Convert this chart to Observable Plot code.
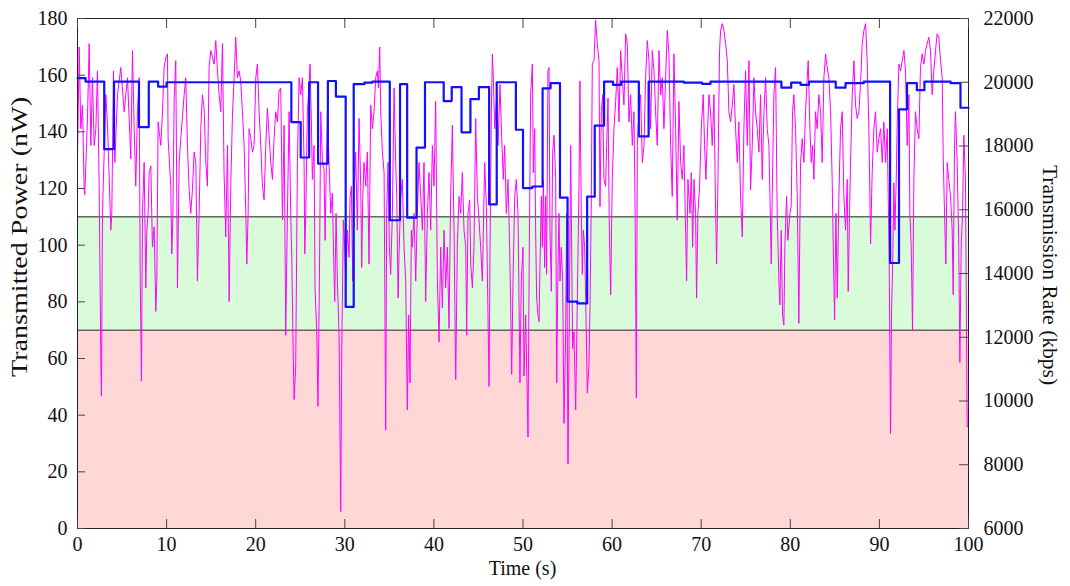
<!DOCTYPE html>
<html>
<head>
<meta charset="utf-8">
<script src="https://cdn.jsdelivr.net/npm/d3@7"></script>
<script src="https://cdn.jsdelivr.net/npm/@observablehq/plot@0.6"></script>
<style>
  html, body { margin: 0; padding: 0; background: #fff; }
  #chart svg { display: block; }
</style>
</head>
<body>
<div id="chart"></div>
<script>
// ---- data ----
const xTicks = [0, 10, 20, 30, 40, 50, 60, 70, 80, 90, 100];
const powerTicks = [0, 20, 40, 60, 80, 100, 120, 140, 160, 180];
const rateTicks = [6000, 8000, 10000, 12000, 14000, 16000, 18000, 20000, 22000];
const powerDomain = [0, 180];
const rateDomain = [6000, 22000];
const redBand = [0, 70];
const greenBand = [70, 110];

// transmitted power (nW) vs time (s)
const power = [
[0.00,131.6],[0.19,169.9],[0.37,141.1],[0.56,149.5],[0.75,119.6],[0.82,117.8],[1.12,144.7],[1.31,171.1],[1.50,135.2],[1.68,159.1],
[1.87,135.2],[2.06,141.1],[2.24,161.5],[2.43,120.8],[2.62,58.6],[2.69,46.7],[2.80,111.2],[3.18,153.1],[3.37,142.3],[3.74,105.3],
[3.85,111.2],[4.04,161.5],[4.19,129.2],[4.49,153.1],[4.86,162.7],[5.24,147.1],[5.61,159.1],[5.98,130.4],[6.17,168.7],[6.36,141.1],
[6.54,120.8],[6.73,147.1],[6.92,159.1],[7.03,90.9],[7.18,52.0],[7.29,111.2],[7.48,129.2],[7.67,84.9],[7.78,105.3],[7.93,111.2],
[8.04,125.6],[8.23,128.0],[8.41,99.3],[8.60,106.5],[8.79,76.6],[8.90,87.3],[9.05,143.5],[9.35,135.2],[9.54,147.1],[9.72,162.7],
[9.91,166.3],[10.10,167.5],[10.17,137.6],[10.47,120.8],[10.58,96.9],[10.70,108.9],[10.85,151.9],[11.03,165.1],[11.22,84.9],[11.41,129.2],
[11.59,137.6],[11.97,153.1],[12.15,159.1],[12.34,135.2],[12.53,119.6],[12.71,111.2],[12.90,119.6],[13.09,132.8],[13.28,129.2],[13.46,87.3],
[13.65,111.2],[13.84,141.1],[14.02,153.1],[14.21,148.3],[14.40,129.2],[14.58,120.8],[14.77,162.7],[14.96,168.7],[15.15,166.3],[15.33,163.9],
[15.52,172.2],[15.71,161.5],[15.89,153.1],[16.08,147.1],[16.27,171.1],[16.45,125.6],[16.64,102.9],[16.83,135.2],[17.02,80.1],[17.20,120.8],
[17.39,145.9],[17.58,159.1],[17.76,173.4],[17.95,159.1],[18.14,161.5],[18.32,157.9],[18.51,147.1],[18.70,135.2],[18.89,111.2],[19.00,93.3],
[19.15,111.2],[19.26,141.1],[19.45,137.6],[19.63,132.8],[19.82,135.2],[20.01,159.1],[20.19,163.9],[20.38,147.1],[20.57,135.2],[20.76,120.8],
[20.94,116.0],[21.13,135.2],[21.32,148.3],[21.50,138.8],[21.69,129.2],[21.88,123.2],[22.06,137.6],[22.25,147.1],[22.44,143.5],[22.62,154.3],
[22.81,155.5],[23.00,108.9],[23.19,142.3],[23.37,68.2],[23.56,111.2],[23.75,147.1],[23.93,111.2],[24.05,95.7],[24.20,63.4],[24.31,45.5],
[24.49,57.4],[24.68,129.2],[24.87,159.1],[25.05,153.1],[25.24,159.1],[25.43,129.2],[25.51,96.9],[25.62,111.2],[25.80,147.1],[25.99,156.7],
[26.10,163.9],[26.25,143.5],[26.36,123.2],[26.55,135.2],[26.66,84.9],[26.85,69.4],[26.99,43.1],[27.15,87.3],[27.30,147.1],[27.49,129.2],
[27.67,126.8],[27.79,101.7],[27.90,123.2],[28.05,147.1],[28.23,129.2],[28.42,111.2],[28.61,118.4],[28.72,99.3],[28.87,80.1],[29.02,111.2],
[29.17,87.3],[29.36,68.2],[29.54,6.0],[29.66,63.4],[29.84,108.9],[29.99,99.3],[30.10,87.3],[30.29,105.3],[30.48,95.7],[30.59,117.2],
[30.74,120.8],[30.89,87.3],[31.04,117.2],[31.22,132.8],[31.41,105.3],[31.60,144.7],[31.79,120.8],[31.90,92.1],[32.01,116.0],[32.16,129.2],
[32.35,120.8],[32.53,132.8],[32.72,93.3],[32.91,149.5],[33.10,141.1],[33.28,147.1],[33.47,159.1],[33.66,161.5],[33.77,155.5],[33.92,169.9],
[34.03,147.1],[34.22,132.8],[34.41,125.6],[34.59,34.7],[34.70,111.2],[34.85,129.2],[35.00,99.3],[35.15,89.7],[35.34,111.2],[35.53,155.5],
[35.71,129.2],[35.83,117.2],[35.98,81.3],[36.09,96.9],[36.28,117.2],[36.46,123.2],[36.65,99.3],[36.84,87.3],[36.95,57.4],[37.02,41.9],
[37.17,75.4],[37.32,51.4],[37.47,105.3],[37.58,99.3],[37.77,111.2],[37.96,87.3],[38.14,111.2],[38.33,129.2],[38.52,117.2],[38.71,105.3],
[38.89,129.2],[39.08,80.1],[39.27,111.2],[39.45,125.6],[39.64,105.3],[39.83,135.2],[40.01,120.8],[40.20,150.7],[40.39,87.3],[40.58,65.8],
[40.76,99.3],[40.95,77.8],[41.14,105.3],[41.32,84.9],[41.51,99.3],[41.70,70.6],[41.88,117.2],[42.07,142.3],[42.26,105.3],[42.45,52.6],
[42.63,99.3],[42.82,117.2],[43.01,111.2],[43.19,125.6],[43.38,105.3],[43.57,99.3],[43.68,68.2],[43.83,111.2],[44.02,116.0],[44.13,93.3],
[44.32,84.9],[44.50,99.3],[44.69,144.7],[44.88,117.2],[45.06,108.9],[45.25,99.3],[45.44,87.3],[45.55,105.3],[45.70,129.2],[45.89,113.6],
[46.07,75.4],[46.19,50.2],[46.30,99.3],[46.45,147.1],[46.56,167.5],[46.67,159.1],[46.82,141.1],[47.05,153.1],[47.20,135.2],[47.42,156.7],
[47.61,137.6],[47.79,123.2],[47.94,135.2],[48.13,111.2],[48.32,123.2],[48.50,99.3],[48.62,77.8],[48.73,54.4],[48.88,87.3],[49.07,117.2],
[49.25,123.2],[49.44,111.2],[49.66,51.4],[49.81,87.3],[50.00,99.3],[50.11,53.8],[50.30,75.4],[50.56,32.3],[50.71,99.3],[50.86,153.1],
[51.05,163.9],[51.16,125.6],[51.31,141.1],[51.42,105.3],[51.53,81.3],[51.68,75.4],[51.80,73.0],[51.91,93.3],[52.06,117.2],[52.17,99.3],
[52.28,123.2],[52.43,92.1],[52.54,117.2],[52.65,89.7],[52.80,161.5],[52.92,162.7],[53.03,105.3],[53.18,83.7],[53.33,132.8],[53.48,138.8],
[53.67,123.2],[53.78,51.4],[53.93,93.3],[54.04,111.2],[54.15,87.3],[54.30,99.3],[54.45,87.3],[54.60,37.1],[54.79,69.4],[54.90,111.2],
[55.05,22.7],[55.20,75.4],[55.35,135.2],[55.46,99.3],[55.57,63.4],[55.72,69.4],[55.91,41.9],[56.10,81.3],[56.28,120.8],[56.39,157.9],
[56.54,111.2],[56.66,89.7],[56.77,105.3],[56.92,99.3],[57.07,75.4],[57.22,47.8],[57.40,57.4],[57.52,77.8],[57.67,117.2],[57.78,163.9],
[57.97,165.1],[58.15,179.4],[58.34,171.1],[58.53,165.1],[58.64,113.6],[58.79,147.1],[58.94,153.1],[59.09,123.2],[59.27,120.8],[59.39,135.2],
[59.54,151.9],[59.69,105.3],[59.84,82.5],[60.02,123.2],[60.21,141.1],[60.40,150.7],[60.58,162.7],[60.77,143.5],[60.96,168.7],[61.14,159.1],
[61.33,149.5],[61.52,174.6],[61.71,171.1],[61.89,143.5],[62.08,153.1],[62.27,135.2],[62.45,147.1],[62.57,117.2],[62.72,46.1],[62.83,135.2],
[63.02,147.1],[63.20,153.1],[63.39,129.2],[63.58,135.2],[63.76,159.1],[63.95,172.2],[64.14,165.1],[64.32,141.1],[64.51,168.7],[64.70,161.5],
[64.88,147.1],[65.07,135.2],[65.26,168.7],[65.45,153.1],[65.63,159.1],[65.82,141.1],[66.01,159.1],[66.19,175.8],[66.38,167.5],[66.57,135.2],
[66.75,117.2],[66.94,167.5],[67.13,141.1],[67.31,108.9],[67.50,150.7],[67.69,129.2],[67.88,123.2],[68.06,135.2],[68.25,105.3],[68.36,87.3],
[68.51,123.2],[68.74,111.2],[68.89,125.6],[69.04,99.3],[69.19,123.2],[69.37,111.2],[69.48,81.3],[69.63,111.2],[69.82,120.8],[70.01,141.1],
[70.23,153.1],[70.38,135.2],[70.53,123.2],[70.68,137.6],[70.87,153.1],[71.05,147.1],[71.24,135.2],[71.43,153.1],[71.62,111.2],[71.73,93.3],
[71.88,123.2],[72.06,168.7],[72.18,175.8],[72.36,178.2],[72.55,175.8],[72.74,171.1],[72.93,165.1],[73.11,147.1],[73.30,143.5],[73.49,149.5],
[73.67,156.7],[73.86,141.1],[74.05,129.2],[74.23,143.5],[74.42,117.2],[74.61,102.9],[74.79,141.1],[74.98,161.5],[75.17,135.2],[75.36,165.1],
[75.54,119.6],[75.73,135.2],[75.92,159.1],[76.10,147.1],[76.29,141.1],[76.48,132.8],[76.66,153.1],[76.85,123.2],[77.04,147.1],[77.23,159.1],
[77.41,141.1],[77.60,135.2],[77.71,118.4],[77.86,93.3],[77.97,117.2],[78.16,153.1],[78.35,162.7],[78.53,111.2],[78.72,87.3],[78.83,78.9],
[78.98,105.3],[79.13,75.4],[79.28,71.8],[79.39,99.3],[79.58,117.2],[79.73,101.7],[79.96,111.2],[80.10,113.6],[80.25,147.1],[80.40,153.1],
[80.59,141.1],[80.78,117.2],[80.96,72.4],[81.15,129.2],[81.34,137.6],[81.53,129.2],[81.71,147.1],[81.90,159.1],[82.01,165.1],[82.20,141.1],
[82.35,129.2],[82.50,135.2],[82.65,123.2],[82.83,147.1],[83.02,141.1],[83.21,153.1],[83.40,147.1],[83.58,129.2],[83.77,159.1],[83.96,167.5],
[84.14,162.7],[84.33,159.1],[84.52,147.1],[84.70,123.2],[84.82,99.3],[84.97,73.6],[85.12,111.2],[85.27,81.3],[85.45,117.2],[85.64,141.1],
[85.83,147.1],[86.01,117.2],[86.20,105.3],[86.39,123.2],[86.50,83.7],[86.65,111.2],[86.76,129.2],[86.95,153.1],[87.14,165.1],[87.32,149.5],
[87.51,144.7],[87.70,147.1],[87.88,156.7],[88.07,171.1],[88.26,175.8],[88.45,178.2],[88.63,165.1],[88.82,141.1],[89.01,100.5],[89.19,125.6],
[89.38,141.1],[89.57,147.1],[89.75,132.8],[89.94,137.6],[90.13,141.1],[90.32,129.2],[90.50,143.5],[90.69,129.2],[90.88,141.1],[90.99,117.2],
[91.10,93.3],[91.25,33.5],[91.36,75.4],[91.51,96.9],[91.62,122.0],[91.74,105.3],[91.89,123.2],[92.00,143.5],[92.19,163.9],[92.37,161.5],
[92.56,165.1],[92.75,168.7],[92.93,161.5],[93.12,135.2],[93.31,153.1],[93.42,111.2],[93.57,99.3],[93.72,70.0],[93.87,123.2],[94.05,147.1],
[94.24,141.1],[94.43,137.6],[94.61,162.7],[94.80,167.5],[94.99,163.9],[95.18,168.7],[95.36,171.1],[95.55,173.4],[95.74,168.7],[95.92,153.1],
[96.11,161.5],[96.30,168.7],[96.48,174.6],[96.67,173.4],[96.86,165.1],[97.05,159.1],[97.16,131.6],[97.31,111.2],[97.46,93.3],[97.61,129.2],
[97.79,123.2],[97.98,117.2],[98.17,105.3],[98.28,82.5],[98.43,135.2],[98.54,147.1],[98.73,129.2],[98.91,99.3],[99.03,58.6],[99.18,99.3],
[99.33,111.2],[99.48,138.8],[99.66,123.2],[99.85,35.9],[100.00,35.9]
];

// transmission rate (kbps): [time the level starts, rate]
const rateSteps = [
[0.0,20130],[0.9,20020],[3.0,17900],[4.1,20020],[6.9,18590],[8.0,20020],[9.05,19860],[10.0,20000],[24.0,18750],[25.05,17640],
[26.0,20000],[27.0,17450],[28.1,20040],[29.0,19550],[30.1,12950],[31.0,19940],[32.2,19990],[33.1,20020],[35.05,15670],[36.2,19940],
[37.0,15750],[38.05,17950],[39.0,20000],[41.1,19410],[42.0,19850],[43.1,18430],[44.1,19470],[45.05,19850],[46.2,16170],[47.05,20000],
[49.2,18510],[50.0,16680],[51.05,16730],[52.2,19810],[53.1,19970],[54.15,16380],[55.0,13120],[56.1,13060],[57.2,16410],[58.05,18640],
[59.1,20020],[60.1,19920],[61.0,20020],[63.0,18300],[64.1,20020],[68.05,19990],[70.1,19950],[71.05,20020],[79.0,19830],[80.1,19990],
[81.15,19920],[82.1,20020],[85.1,19830],[86.2,19970],[88.25,20020],[91.2,14330],[92.2,19150],[93.1,19970],[94.2,19750],[95.05,20020],
[98.0,19970],[99.1,19200],[100.0,19200]
];

const xLabel = "Time (s)";
const yLeftLabel = "Transmitted Power (nW)";
const yRightLabel = "Transmission Rate (kbps)";

// ---- helpers: map rate onto the power scale (shared vertical extent) ----
const toP = r => powerDomain[0] + (r - rateDomain[0]) * (powerDomain[1] - powerDomain[0]) / (rateDomain[1] - rateDomain[0]);
const fromP = p => rateDomain[0] + (p - powerDomain[0]) * (rateDomain[1] - rateDomain[0]) / (powerDomain[1] - powerDomain[0]);

const W = 1070, H = 586;
const M = {left: 77, right: 102, top: 18, bottom: 58};
const font = "'Liberation Serif', 'Times New Roman', serif";
const xDom = [xTicks[0], xTicks[xTicks.length - 1]];

const chart = Plot.plot({
  width: W, height: H,
  marginLeft: M.left, marginRight: M.right, marginTop: M.top, marginBottom: M.bottom,
  x: {domain: xDom},
  y: {domain: powerDomain},
  style: {fontFamily: font, fontSize: "20px", color: "#111", background: "#fff", overflow: "visible"},
  marks: [
    Plot.rect([redBand], {x1: () => xDom[0], x2: () => xDom[1], y1: d => d[0], y2: d => d[1], fill: "#ffd7d7"}),
    Plot.rect([greenBand], {x1: () => xDom[0], x2: () => xDom[1], y1: d => d[0], y2: d => d[1], fill: "#d9fbd9"}),
    Plot.ruleY([redBand[1], greenBand[1]], {stroke: "#222", strokeWidth: 1}),
    Plot.line(power, {x: d => d[0], y: d => d[1], stroke: "#ff00ff", strokeWidth: 1, strokeLinejoin: "round"}),
    Plot.line(rateSteps, {x: d => d[0], y: d => toP(d[1]), curve: "step-after", stroke: "#1010ff", strokeWidth: 2.2}),
    Plot.frame({stroke: "#222", strokeWidth: 1}),
    // inward ticks
    Plot.axisY(powerTicks, {anchor: "left", tickSize: -8, tickFormat: () => "", stroke: "#444", label: null}),
    Plot.axisY(rateTicks.map(toP), {anchor: "right", tickSize: -10, tickFormat: () => "", stroke: "#444", label: null}),
    Plot.axisX(xTicks, {anchor: "bottom", tickSize: -9, tickFormat: () => "", stroke: "#444", label: null}),
    Plot.axisX(xTicks, {anchor: "top", tickSize: -9, tickFormat: () => "", stroke: "#444", label: null}),
    // tick labels
    Plot.axisY(powerTicks, {anchor: "left", tickSize: 0, tickPadding: 10, label: null, fill: "#111"}),
    Plot.axisY(rateTicks.map(toP), {anchor: "right", tickSize: 0, tickPadding: 15, label: null, fill: "#111",
      tickFormat: p => String(Math.round(fromP(p)))}),
    Plot.axisX(xTicks, {anchor: "bottom", tickSize: 0, tickPadding: 8, label: null, fill: "#111"})
  ]
});

const svg = d3.select(chart);
svg.append("text")
  .attr("transform", `translate(19,237) rotate(-90)`)
  .attr("text-anchor", "middle").attr("dominant-baseline", "central")
  .attr("font-family", font).attr("font-size", 23).attr("fill", "#111")
  .attr("textLength", 280).attr("lengthAdjust", "spacingAndGlyphs")
  .text(yLeftLabel);
svg.append("text")
  .attr("transform", `translate(1050,275) rotate(90)`)
  .attr("text-anchor", "middle").attr("dominant-baseline", "central")
  .attr("font-family", font).attr("font-size", 21.5).attr("fill", "#111")
  .text(yRightLabel);
svg.append("text")
  .attr("x", M.left + (W - M.left - M.right) / 2).attr("y", 568)
  .attr("text-anchor", "middle").attr("dominant-baseline", "central")
  .attr("font-family", font).attr("font-size", 20).attr("fill", "#111")
  .text(xLabel);

document.getElementById("chart").appendChild(chart);
</script>
</body>
</html>
